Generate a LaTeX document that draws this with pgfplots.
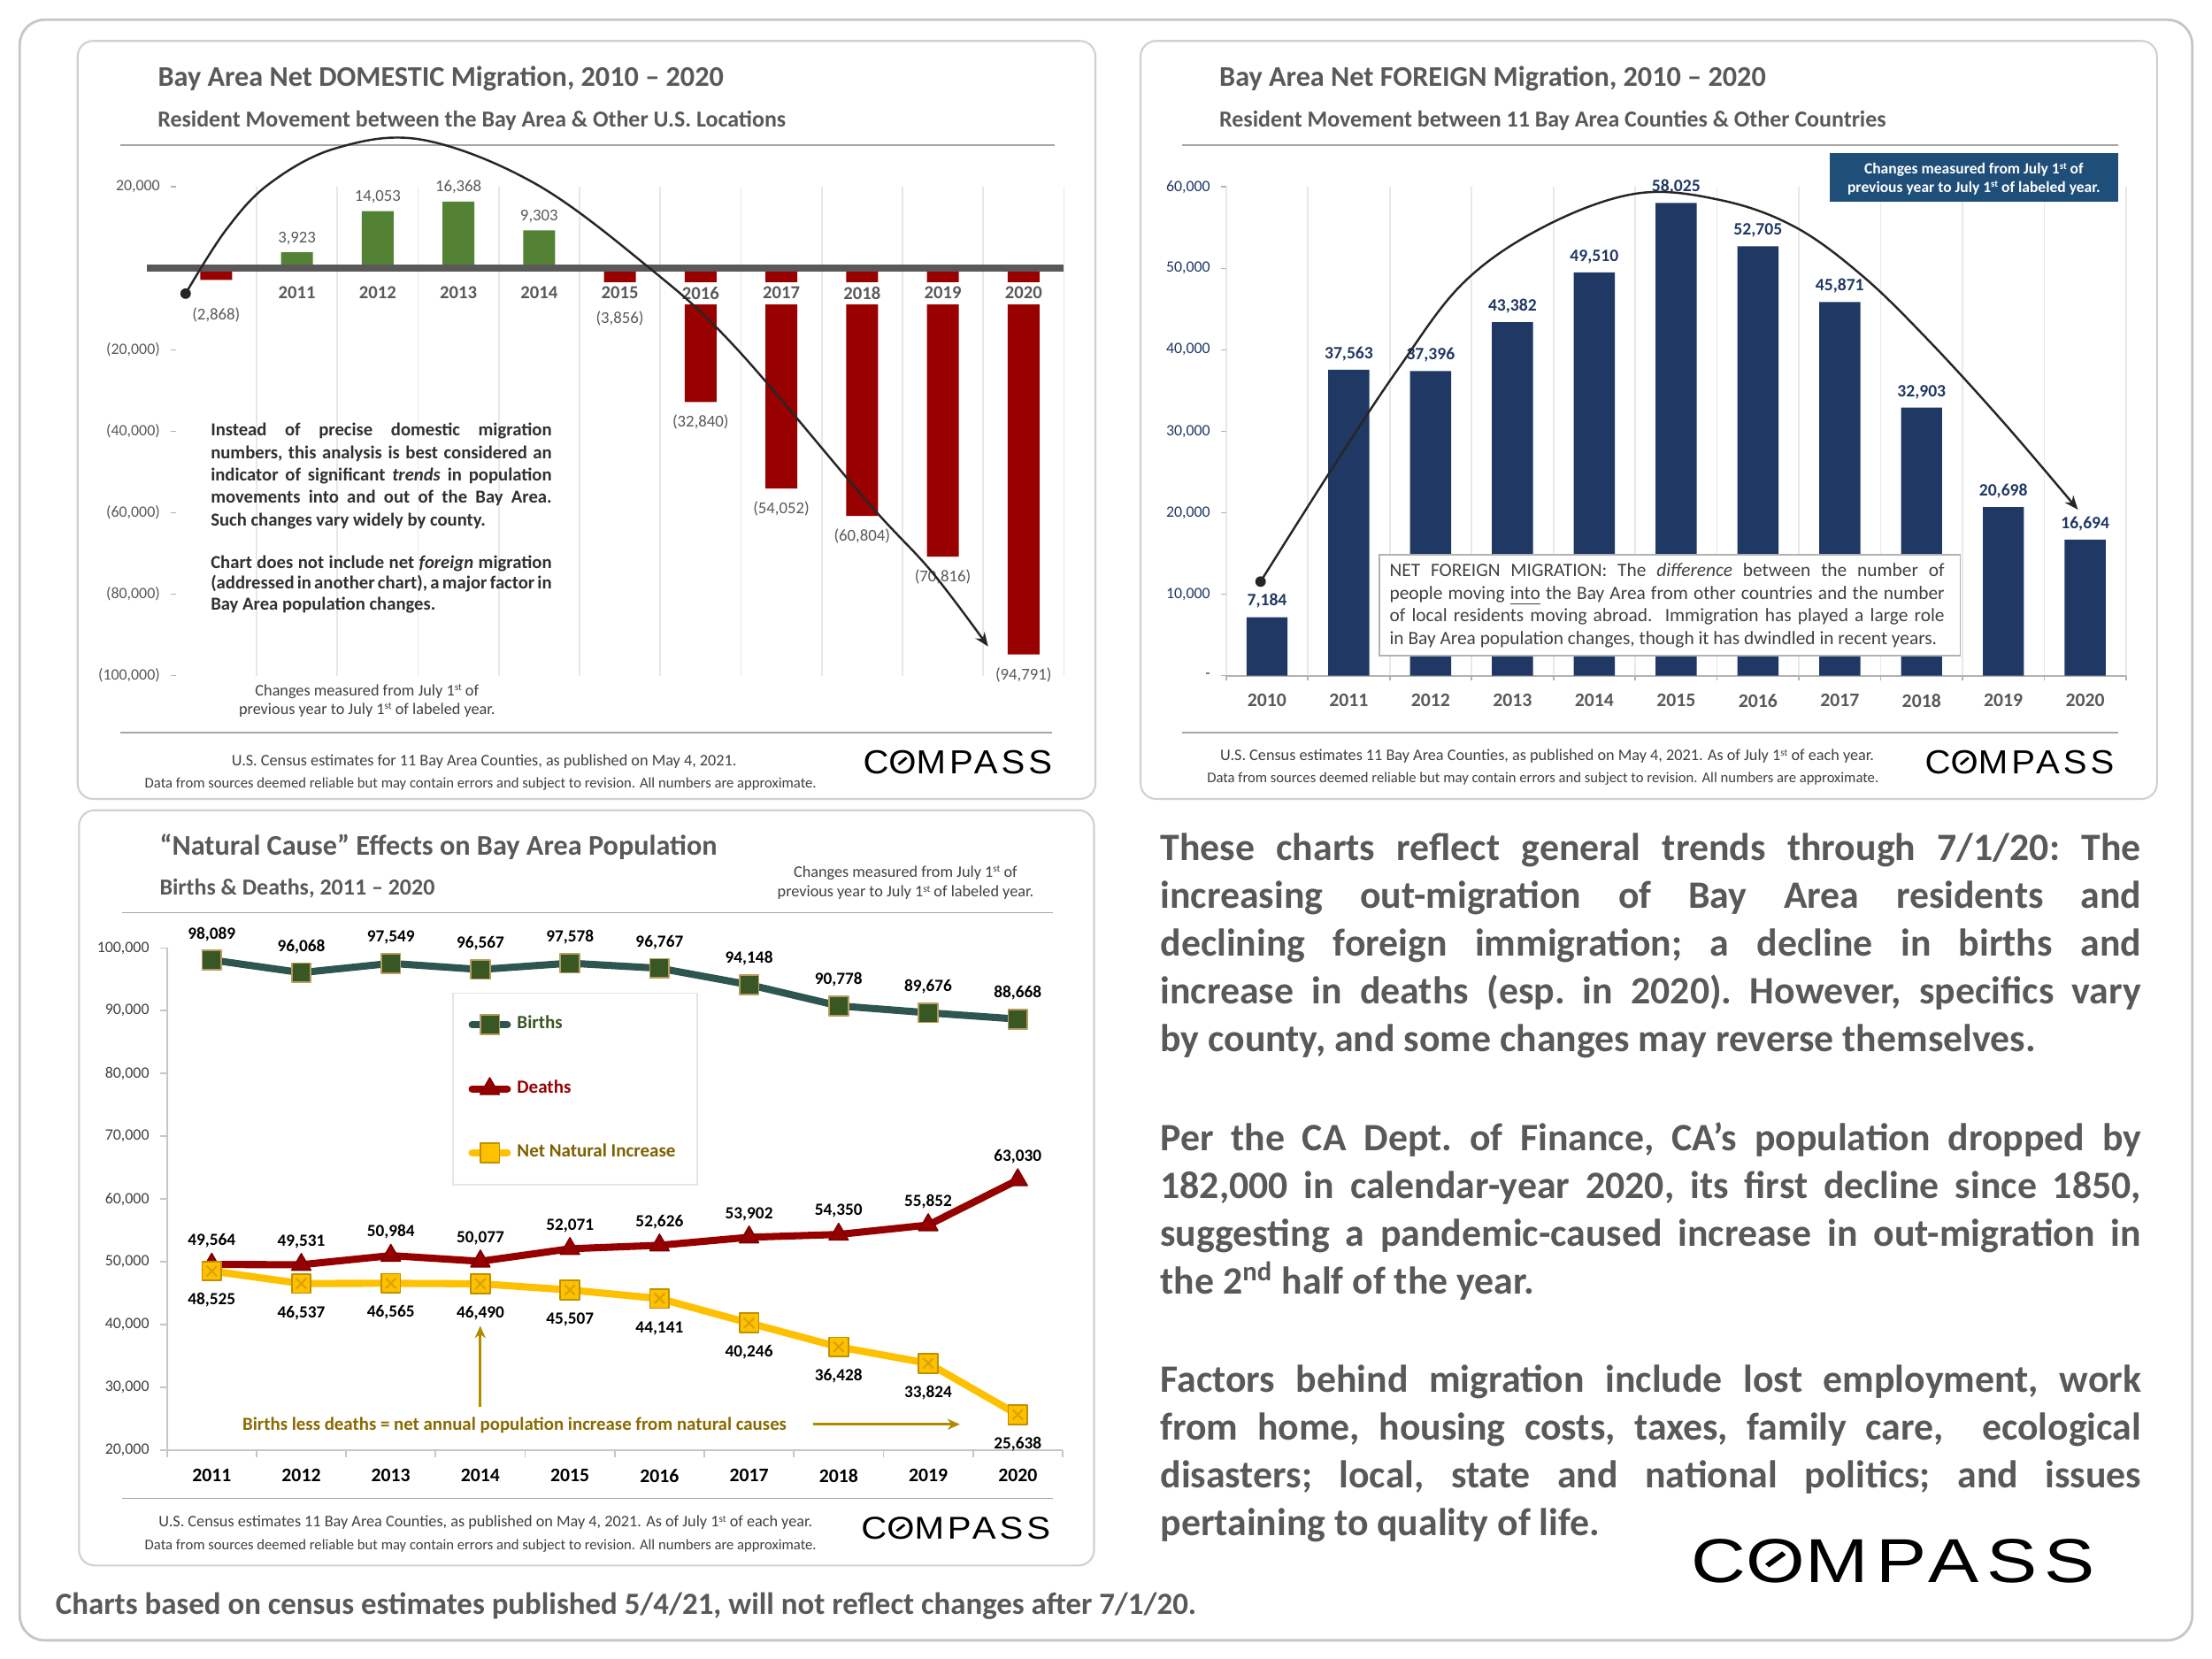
\documentclass[border=0pt]{standalone}
\usepackage{fontspec}
\setmainfont{Carlito}
\newfontfamily\logofont[LetterSpace=10]{Liberation Sans}
\usepackage{graphicx}
\usepackage{pgfplots}
\pgfplotsset{compat=1.18}
\usetikzlibrary{arrows.meta}

\definecolor{txtgray}{HTML}{595959}
\definecolor{darktxt}{HTML}{404040}
\definecolor{blocktxt}{HTML}{303030}
\definecolor{framegray}{HTML}{D0D0D0}
\definecolor{rulegray}{HTML}{A6A6A6}
\definecolor{gridgray}{HTML}{E8E8E8}
\definecolor{zerogray}{HTML}{595959}
\definecolor{posgreen}{HTML}{548235}
\definecolor{negred}{HTML}{990000}
\definecolor{navybar}{HTML}{1F3864}
\definecolor{infoblue}{HTML}{1F4E79}
\definecolor{birthline}{HTML}{2F5550}
\definecolor{birthfill}{HTML}{385723}
\definecolor{birthedge}{HTML}{B89B5E}
\definecolor{deathred}{HTML}{960000}
\definecolor{netgold}{HTML}{FFC000}
\definecolor{netedge}{HTML}{BF9000}
\definecolor{netlegend}{HTML}{7F6000}
\definecolor{annogold}{HTML}{8A6A00}
\definecolor{annoarrow}{HTML}{B08A00}

\newcommand{\fs}[2]{\fontsize{#1}{#2}\selectfont}
\newcommand{\sups}[1]{\raisebox{0.62ex}{\scalebox{0.62}{#1}}}
\newcommand{\logo}[2]{\resizebox{#1}{#2}{\logofont C\ooalign{O\cr\hidewidth\raisebox{0.24em}{\rotatebox{42}{\rule{0.3em}{0.075em}}}\hidewidth}MPASS}}
\newcommand{\justset}{\frenchspacing\tolerance=10000\hbadness=10000\hyphenpenalty=10000\exhyphenpenalty=10000}

\begin{document}
\begin{tikzpicture}
% pixel grid of the reference (1 unit = 0.016cm, y downwards)
\begin{scope}[x=0.016cm, y=-0.016cm]
\useasboundingbox (0,0) rectangle (1567,1175);
\fill[white] (0,0) rectangle (1567,1175);
\draw[gray!45, line width=0.8pt, rounded corners=8pt] (14,14) rectangle (1553,1162);
\foreach \a/\b/\c/\d in {55/29/776/566, 808/29/1528/566, 56/574/775/1109}
  \draw[framegray, line width=0.6pt, rounded corners=5pt] (\a,\b) rectangle (\c,\d);

% panel 1 texts
\node[anchor=base west, inner sep=0, font=\fs{9.2}{11}\bfseries, text=txtgray] at (111.5,61.3) {Bay Area Net DOMESTIC Migration, 2010 – 2020};
\node[anchor=base west, inner sep=0, font=\fs{7.4}{9}\bfseries, text=txtgray] at (111.3,89.7) {Resident Movement between the Bay Area \& Other U.S. Locations};
\draw[rulegray, line width=0.5pt] (85,102.7) -- (747,102.7);
\draw[rulegray, line width=0.5pt] (85,518.8) -- (745,518.8);

% panel 2 texts
\node[anchor=base west, inner sep=0, font=\fs{9.2}{11}\bfseries, text=txtgray] at (863.4,61.3) {Bay Area Net FOREIGN Migration, 2010 – 2020};
\node[anchor=base west, inner sep=0, font=\fs{7.4}{9}\bfseries, text=txtgray] at (863.4,89.7) {Resident Movement between 11 Bay Area Counties \& Other Countries};
\draw[rulegray, line width=0.5pt] (837.5,102.7) -- (1500.6,102.7);
\draw[rulegray, line width=0.5pt] (837.5,518.9) -- (1500.6,518.9);

% panel 3 texts
\node[anchor=base west, inner sep=0, font=\fs{9.2}{11}\bfseries, text=txtgray] at (112.7,605.5) {“Natural Cause” Effects on Bay Area Population};
\node[anchor=base west, inner sep=0, font=\fs{7.4}{9}\bfseries, text=txtgray] at (112.7,634.3) {Births \& Deaths, 2011 – 2020};
\node[anchor=base, inner sep=0, font=\fs{5.2}{6}, text=darktxt] at (641.5,621.3) {Changes measured from July 1\sups{st} of};
\node[anchor=base, inner sep=0, font=\fs{5.2}{6}, text=darktxt] at (641.5,635.3) {previous year to July 1\sups{st} of labeled year.};
\draw[rulegray, line width=0.5pt] (86.8,646.6) -- (746,646.6);
\draw[rulegray, line width=0.5pt] (86.8,1061.5) -- (746,1061.5);
\end{scope}

% ---------------- panel 1: domestic migration
\begin{axis}[
  at={(1.9936cm,-2.1184cm)}, anchor=north west,
  scale only axis, width=10.07cm, height=5.542cm,
  xmin=2009.5, xmax=2020.5, ymin=-100000, ymax=20000,
  clip=false, axis on top, scaled y ticks=false,
  axis x line=middle, axis y line=left,
  x axis line style={-, draw=zerogray, line width=2.2pt, shorten <=-0.33cm},
  y axis line style={-, draw=none},
  xtick={2009.5,2010.5,2011.5,2012.5,2013.5,2014.5,2015.5,2016.5,2017.5,2018.5,2019.5,2020.5},
  x tick label as interval,
  xticklabels={2010,2011,2012,2013,2014,2015,2016,2017,2018,2019,2020},
  xtick style={draw=none},
  xticklabel style={font=\fs{5.9}{7}\bfseries, text=txtgray, fill=white, inner xsep=1.2pt, inner ysep=1.6pt, yshift=-2.6pt},
  xmajorgrids, grid style={gridgray, line width=0.5pt},
  ytick={-100000,-80000,-60000,-40000,-20000,0,20000},
  yticklabels={{(100,000)},{(80,000)},{(60,000)},{(40,000)},{(20,000)},{},{20,000}},
  yticklabel style={font=\fs{5.1}{6}, text=txtgray},
  ytick style={draw=gray!60, line width=0.4pt},
  tick align=outside, major tick length=1.6pt,
  ybar, bar width=0.362cm, bar shift=0pt,
]
\addplot[fill=posgreen, draw=none, nodes near coords, point meta=explicit symbolic,
  every node near coord/.append style={font=\fs{5.35}{6}, text=txtgray, anchor=south, yshift=-1.1pt}]
  table[meta=lab] {
  x    y      lab
  2011 3923   3,923
  2012 14053  14,053
  2013 16368  16,368
  2014 9303   9,303
  };
\addplot[fill=negred, draw=none, nodes near coords, point meta=explicit symbolic,
  every node near coord/.append style={font=\fs{5.35}{6}, text=txtgray, anchor=north, yshift=-5.4pt}]
  table[meta=lab] {
  x    y      lab
  2010 -2868  (2,868)
  2015 -3856  (3,856)
  };
\addplot[fill=negred, draw=none, nodes near coords, point meta=explicit symbolic,
  every node near coord/.append style={font=\fs{5.35}{6}, text=txtgray, anchor=north, yshift=-0.7pt}]
  table[meta=lab] {
  x    y       lab
  2016 -32840  (32,840)
  2017 -54052  (54,052)
  2018 -60804  (60,804)
  2019 -70816  (70,816)
  2020 -94791  (94,791)
  };
\end{axis}

% ---------------- panel 2: foreign migration
\begin{axis}[
  at={(13.9024cm,-2.1184cm)}, anchor=north west,
  scale only axis, width=10.205cm, height=5.544cm,
  xmin=2009.5, xmax=2020.5, ymin=0, ymax=60000,
  clip=false, scaled y ticks=false,
  axis x line=bottom, axis y line=left,
  x axis line style={-, draw=gray!60, line width=0.6pt},
  y axis line style={-, draw=none},
  xtick={2009.5,2010.5,2011.5,2012.5,2013.5,2014.5,2015.5,2016.5,2017.5,2018.5,2019.5,2020.5},
  x tick label as interval,
  xticklabels={2010,2011,2012,2013,2014,2015,2016,2017,2018,2019,2020},
  xticklabel style={font=\fs{6.2}{7}\bfseries, text=txtgray, yshift=-0.8pt},
  xtick style={draw=gray!60, line width=0.5pt},
  xmajorgrids, grid style={gridgray, line width=0.5pt},
  ytick={0,10000,20000,30000,40000,50000,60000},
  yticklabels={-,{10,000},{20,000},{30,000},{40,000},{50,000},{60,000}},
  yticklabel style={font=\fs{5.1}{6}, text=navybar},
  ytick style={draw=gray!60, line width=0.4pt},
  tick align=outside, major tick length=1.6pt,
  ybar, bar width=0.466cm, bar shift=0pt,
]
\addplot[fill=navybar, draw=none, nodes near coords, point meta=explicit symbolic,
  every node near coord/.append style={font=\fs{5.6}{6}\bfseries, text=navybar, anchor=south, yshift=-0.7pt}]
  table[meta=lab] {
  x    y      lab
  2010 7184   7,184
  2011 37563  37,563
  2012 37396  37,396
  2013 43382  43,382
  2014 49510  49,510
  2015 58025  58,025
  2016 52705  52,705
  2017 45871  45,871
  2018 32903  32,903
  2019 20698  20,698
  2020 16694  16,694
  };
\end{axis}

% ---------------- panel 3: births and deaths
\begin{axis}[
  at={(1.8928cm,-10.7488cm)}, anchor=north west,
  scale only axis, width=10.155cm, height=5.693cm,
  xmin=2010.5, xmax=2020.5, ymin=20000, ymax=100000,
  clip=false, scaled y ticks=false,
  axis lines=left, axis line style={-, draw=gray!45, line width=0.5pt},
  xtick={2010.5,2011.5,2012.5,2013.5,2014.5,2015.5,2016.5,2017.5,2018.5,2019.5,2020.5},
  x tick label as interval,
  xticklabels={2011,2012,2013,2014,2015,2016,2017,2018,2019,2020},
  xticklabel style={font=\fs{6.2}{7}\bfseries, text=black, yshift=-0.4pt},
  ytick={20000,30000,40000,50000,60000,70000,80000,90000,100000},
  yticklabels={{20,000},{30,000},{40,000},{50,000},{60,000},{70,000},{80,000},{90,000},{100,000}},
  yticklabel style={font=\fs{5.1}{6}, text=darktxt},
  tick style={draw=gray!45, line width=0.5pt},
  tick align=outside, major tick length=2.2pt,
  legend style={at={(0.3186,0.9115)}, anchor=north west, draw=gray!20, fill=white, line width=0.5pt,
    font=\fs{6}{7}\bfseries, inner xsep=5pt, inner ysep=5.3pt, row sep=11pt},
  legend cell align=left,
  legend image code/.code={\draw[mark repeat=2, mark phase=2, #1] plot coordinates {(0cm,0cm) (0.2cm,0cm) (0.4cm,0cm)};},
]
\addplot[birthline, line width=2.3pt, line cap=round, line join=round,
  mark=square*, mark size=3.1pt, mark options={fill=birthfill, draw=birthedge, line width=0.5pt},
  nodes near coords, point meta=explicit symbolic,
  every node near coord/.append style={font=\fs{5.5}{6}\bfseries, text=black, anchor=south, yshift=2.5pt}]
  table[meta=lab] {
  x    y      lab
  2011 98089  98,089
  2012 96068  96,068
  2013 97549  97,549
  2014 96567  96,567
  2015 97578  97,578
  2016 96767  96,767
  2017 94148  94,148
  2018 90778  90,778
  2019 89676  89,676
  2020 88668  88,668
  };
\addlegendentry{\textcolor{birthfill}{Births}}
\addplot[deathred, line width=2.3pt, line cap=round, line join=round,
  mark=triangle*, mark size=3.6pt, mark options={fill=deathred, draw=deathred!80!black, line width=0.4pt},
  nodes near coords, point meta=explicit symbolic,
  every node near coord/.append style={font=\fs{5.5}{6}\bfseries, text=black, anchor=south, yshift=1.8pt}]
  table[meta=lab] {
  x    y      lab
  2011 49564  49,564
  2012 49531  49,531
  2013 50984  50,984
  2014 50077  50,077
  2015 52071  52,071
  2016 52626  52,626
  2017 53902  53,902
  2018 54350  54,350
  2019 55852  55,852
  2020 63030  63,030
  };
\addlegendentry{\textcolor{deathred}{Deaths}}
\addplot[netgold, line width=2.3pt, line cap=round, line join=round,
  mark=square*, mark size=3.1pt, mark options={fill=netgold, draw=netedge, line width=0.5pt},
  nodes near coords, point meta=explicit symbolic,
  every node near coord/.append style={font=\fs{5.5}{6}\bfseries, text=black, anchor=south, yshift=-15.3pt}]
  table[meta=lab] {
  x    y      lab
  2011 48525  48,525
  2012 46537  46,537
  2013 46565  46,565
  2014 46490  46,490
  2015 45507  45,507
  2016 44141  44,141
  2017 40246  40,246
  2018 36428  36,428
  2019 33824  33,824
  2020 25638  25,638
  };
\addlegendentry{\textcolor{netlegend}{Net Natural Increase}}
\addplot[forget plot, only marks, mark=x, mark size=2.3pt, mark options={draw=netedge!60!netgold, line width=0.6pt}]
  table {
  x    y
  2011 48525
  2012 46537
  2013 46565
  2014 46490
  2015 45507
  2016 44141
  2017 40246
  2018 36428
  2019 33824
  2020 25638
  };
\end{axis}

\begin{scope}[x=0.016cm, y=-0.016cm]
% panel 1 annotations
\draw[line width=0.7pt, draw=black!85, -{Stealth[length=4.5pt, width=3.6pt]}]
  plot[smooth, tension=0.6] coordinates {(131.5,208) (160,163) (191,130) (238,105) (299,99) (379,130) (459,189) (520,245) (614,355) (660,405) (700,458)};
\fill[black!85] (131.5,208) circle[radius=1.7pt];
\node[anchor=base west, inner sep=0, text width=110pt, align=justify, font=\fs{5.9}{7.25}\bfseries, text=blocktxt] at (148.9,308.8)
  {\justset Instead of precise domestic migration\linebreak numbers, this analysis is best considered an\linebreak indicator of significant \textit{trends} in population\linebreak movements into and out of the Bay Area.\linebreak Such changes vary widely by county.};
\node[anchor=base west, inner sep=0, text width=110pt, align=justify, font=\fs{5.9}{6.7}\bfseries, text=blocktxt] at (148.9,402.6)
  {\justset Chart does not include net \textit{foreign} migration\linebreak (addressed in another chart), a major factor in\linebreak Bay Area population changes.};
\node[anchor=base, inner sep=0, font=\fs{5.2}{6}, text=darktxt] at (260,492.7) {Changes measured from July 1\sups{st} of};
\node[anchor=base, inner sep=0, font=\fs{5.2}{6}, text=darktxt] at (260,506) {previous year to July 1\sups{st} of labeled year.};
\node[anchor=base, inner sep=0, font=\fs{5.2}{6}, text=darktxt] at (343,542.5) {U.S. Census estimates for 11 Bay Area Counties, as published on May 4, 2021.};
\node[anchor=base, inner sep=0, font=\fs{4.75}{6}, text=darktxt] at (340.5,558) {Data from sources deemed reliable but may contain errors and subject to revision. All numbers are approximate.};
\node[anchor=south west, inner sep=0] at (611,548.5) {\logo{2.144cm}{0.264cm}};

% panel 2 annotations
\fill[infoblue] (1296,108.6) rectangle (1500.6,143.1);
\node[anchor=base, inner sep=0, font=\fs{5}{6}\bfseries, text=white] at (1398.3,123.1) {Changes measured from July 1\sups{st} of};
\node[anchor=base, inner sep=0, font=\fs{5}{6}\bfseries, text=white] at (1398.3,136.1) {previous year to July 1\sups{st} of labeled year.};
\draw[line width=0.7pt, draw=black!85, -{Stealth[length=4.5pt, width=3.6pt]}]
  plot[smooth, tension=0.6] coordinates {(893,412) (943,333) (990,262) (1037,200) (1095,160) (1160,137) (1220,142) (1272,161) (1320,196) (1367,242) (1420,300) (1472,361)};
\fill[black!85] (893,412) circle[radius=1.7pt];
\draw[gray!60, line width=0.5pt, fill=white] (977,392.8) rectangle (1388.6,464.5);
\node[anchor=base west, inner sep=0, text width=179pt, align=justify, font=\fs{6.1}{7.26}, text=darktxt] at (984,408.6)
  {\justset NET FOREIGN MIGRATION: The \textit{difference} between the number of\linebreak people moving \underline{into} the Bay Area from other countries and the number\linebreak of local residents moving abroad.\ \ Immigration has played a large role\linebreak in Bay Area population changes, though it has dwindled in recent years.};
\node[anchor=base, inner sep=0, font=\fs{5.2}{6}, text=darktxt] at (1096,539) {U.S. Census estimates 11 Bay Area Counties, as published on May 4, 2021. As of July 1\sups{st} of each year.};
\node[anchor=base, inner sep=0, font=\fs{4.75}{6}, text=darktxt] at (1093,554.5) {Data from sources deemed reliable but may contain errors and subject to revision. All numbers are approximate.};
\node[anchor=south west, inner sep=0] at (1363.3,548.5) {\logo{2.144cm}{0.264cm}};

% panel 3 annotations
\draw[annoarrow, line width=0.8pt, -{Stealth[length=4pt, width=3.5pt]}] (340.2,996.9) -- (340.2,939.2);
\draw[annoarrow, line width=0.8pt, -{Stealth[length=4pt, width=3.5pt]}] (575.8,1009) -- (680,1009);
\node[anchor=base west, inner sep=0, font=\fs{5.95}{7}\bfseries, text=annogold] at (171.4,1013) {Births less deaths = net annual population increase from natural causes};
\node[anchor=base, inner sep=0, font=\fs{5.2}{6}, text=darktxt] at (344,1081.5) {U.S. Census estimates 11 Bay Area Counties, as published on May 4, 2021. As of July 1\sups{st} of each year.};
\node[anchor=base, inner sep=0, font=\fs{4.75}{6}, text=darktxt] at (340.5,1098) {Data from sources deemed reliable but may contain errors and subject to revision. All numbers are approximate.};
\node[anchor=south west, inner sep=0] at (609.6,1091.2) {\logo{2.146cm}{0.25cm}};

% commentary
\node[anchor=base west, inner sep=0, text width=316.4pt, align=justify, font=\fs{12.5}{15.42}\bfseries, text=txtgray] at (821.6,609.4)
  {\justset These charts reflect general trends through 7/1/20: The\linebreak increasing out-migration of Bay Area residents and\linebreak declining foreign immigration; a decline in births and\linebreak increase in deaths (esp. in 2020). However, specifics vary\linebreak by county, and some changes may reverse themselves.};
\node[anchor=base west, inner sep=0, text width=316.4pt, align=justify, font=\fs{12.5}{15.42}\bfseries, text=txtgray] at (821.6,815.2)
  {\justset Per the CA Dept. of Finance, CA’s population dropped by\linebreak 182,000 in calendar-year 2020, its first decline since 1850,\linebreak suggesting a pandemic-caused increase in out-migration in\linebreak the 2\textsuperscript{nd} half of the year.};
\node[anchor=base west, inner sep=0, text width=316.4pt, align=justify, font=\fs{12.5}{15.42}\bfseries, text=txtgray] at (821.6,986.2)
  {\justset Factors behind migration include lost employment, work\linebreak from home, housing costs, taxes, family care,\ \ ecological\linebreak disasters; local, state and national politics; and issues\linebreak pertaining to quality of life.};
\node[anchor=south west, inner sep=0] at (1197.7,1121.7) {\logo{4.581cm}{0.491cm}};
\node[anchor=base west, inner sep=0, font=\fs{9.95}{12}\bfseries, text=txtgray] at (39,1143.4) {Charts based on census estimates published 5/4/21, will not reflect changes after 7/1/20.};
\end{scope}
\end{tikzpicture}
\end{document}
